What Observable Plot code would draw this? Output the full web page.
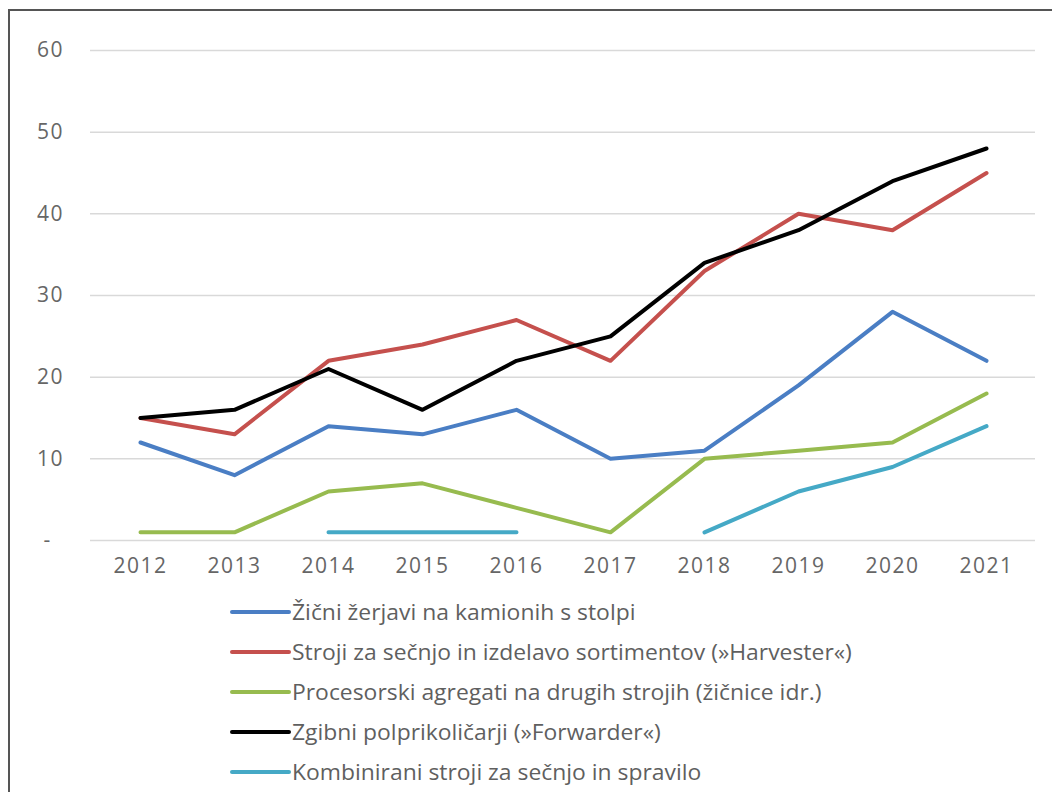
<!DOCTYPE html>
<html>
<head>
<meta charset="utf-8">
<script src="https://cdn.jsdelivr.net/npm/d3@7"></script>
<script src="https://cdn.jsdelivr.net/npm/@observablehq/plot@0.6"></script>
<style>
  html, body { margin: 0; padding: 0; background: #fff; }
  body { width: 1052px; height: 792px; position: relative; overflow: hidden; font-family: "Open Sans", sans-serif; }
  #frame { position: absolute; left: 8px; top: 9px; right: -10px; bottom: -10px; border-left: 2px solid #555; border-top: 2px solid #555; pointer-events: none; }
  #legend { position: absolute; left: 230px; top: 592px; }
  .row { height: 40px; display: flex; align-items: center; }
  .sw { width: 61px; height: 4px; border-radius: 2px; margin-right: 1px; flex: none; }
  .lab { font-size: 21px; color: #5f5f5f; white-space: nowrap; display: inline-block; transform: scaleX(1.09); transform-origin: left center; }
  svg text { letter-spacing: 1.5px; }
</style>
</head>
<body>
<div id="chart"></div>
<div id="legend"></div>
<div id="frame"></div>
<script>
const years = [2012, 2013, 2014, 2015, 2016, 2017, 2018, 2019, 2020, 2021];
const seriesNames = [
  "Žični žerjavi na kamionih s stolpi",
  "Stroji za sečnjo in izdelavo sortimentov (»Harvester«)",
  "Procesorski agregati na drugih strojih (žičnice idr.)",
  "Zgibni polprikoličarji (»Forwarder«)",
  "Kombinirani stroji za sečnjo in spravilo"
];
const seriesColors = ["#4a7ec4", "#c5504d", "#97bb4f", "#000000", "#45a9c6"];
const zicniZerjavi = [12, 8, 14, 13, 16, 10, 11, 19, 28, 22];
const harvester = [15, 13, 22, 24, 27, 22, 33, 40, 38, 45];
const procesorski = [1, 1, 6, 7, 4, 1, 10, 11, 12, 18];
const forwarder = [15, 16, 21, 16, 22, 25, 34, 38, 44, 48];
const kombinirani = [null, null, 1, 1, 1, null, 1, 6, 9, 14];
const yTicks = [10, 20, 30, 40, 50, 60];

const allSeries = [zicniZerjavi, harvester, procesorski, forwarder, kombinirani];
const data = [];
allSeries.forEach((vals, si) => {
  vals.forEach((v, i) => data.push({year: years[i], value: v, series: seriesNames[si]}));
});

const chart = Plot.plot({
  width: 1052,
  height: 590,
  marginLeft: 90,
  marginRight: 17,
  marginTop: 50,
  marginBottom: 50,
  style: {fontFamily: "Open Sans, sans-serif", fontSize: "21px", color: "#666", background: "transparent"},
  x: {type: "point", domain: years, padding: 0.5, label: null},
  y: {domain: [0, 60], label: null},
  marks: [
    Plot.gridY([0, ...yTicks], {stroke: "#d9d9d9", strokeOpacity: 1, strokeWidth: 1.5}),
    Plot.axisY(yTicks, {tickSize: 0, tickPadding: 26.5, fontSize: 21, fill: "#666", label: null}),
    Plot.text([0], {y: d => d, frameAnchor: "left", dx: -47, text: () => "-", fontSize: 21, fill: "#666"}),
    Plot.axisX({tickSize: 0, tickPadding: 18, fontSize: 21, fill: "#666", label: null, tickFormat: d => String(d)}),
    ...seriesNames.map((name, si) =>
      Plot.line(data.filter(d => d.series === name), {
        x: "year", y: "value", stroke: seriesColors[si], strokeWidth: 4,
        strokeLinejoin: "round", strokeLinecap: "round",
        defined: d => d.value != null
      })
    )
  ]
});
document.getElementById("chart").appendChild(chart);

const legend = document.getElementById("legend");
seriesNames.forEach((name, i) => {
  const row = document.createElement("div");
  row.className = "row";
  const sw = document.createElement("span");
  sw.className = "sw";
  sw.style.background = seriesColors[i];
  const lab = document.createElement("span");
  lab.className = "lab";
  lab.textContent = name;
  row.appendChild(sw);
  row.appendChild(lab);
  legend.appendChild(row);
});
</script>
</body>
</html>
